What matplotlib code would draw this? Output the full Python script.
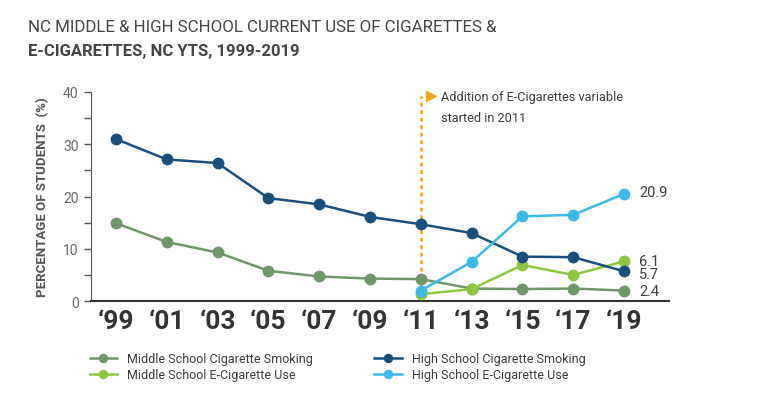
import matplotlib.pyplot as plt

plt.rcParams["font.family"] = ["Roboto", "DejaVu Sans"]

years = [1999, 2001, 2003, 2005, 2007, 2009, 2011, 2013, 2015, 2017, 2019]
year_labels = ["\u201899", "\u201801", "\u201803", "\u201805", "\u201807", "\u201809",
               "\u201811", "\u201813", "\u201815", "\u201817", "\u201819"]
ecig_years = [2011, 2013, 2015, 2017, 2019]

ms_cig = [14.9, 11.3, 9.3, 5.8, 4.7, 4.3, 4.2, 2.4, 2.3, 2.4, 2.0]
hs_cig = [31.0, 27.1, 26.4, 19.7, 18.5, 16.1, 14.7, 13.0, 8.5, 8.4, 5.7]
ms_ecig = [1.3, 2.3, 6.9, 5.0, 7.6]
hs_ecig = [2.0, 7.5, 16.2, 16.5, 20.5]

end_labels = ["20.9", "6.1", "5.7", "2.4"]
end_label_y = [20.9, 7.7, 5.2, 2.0]

c_ms_cig = "#6f9669"
c_hs_cig = "#17507f"
c_ms_ecig = "#8dc63f"
c_hs_ecig = "#3bb9ea"
c_orange = "#f5a21f"
txt = "#3d3d3d"

fig = plt.figure(figsize=(7.68, 4.06), dpi=100)
ax = fig.add_axes([0.1185, 0.256, 0.752, 0.515])

kw = dict(lw=1.8, marker="o", ms=8.5, markeredgewidth=0, zorder=3)
ax.plot(years, ms_cig, color=c_ms_cig, label="Middle School Cigarette Smoking", **kw)
ax.plot(ecig_years, ms_ecig, color=c_ms_ecig, label="Middle School E-Cigarette Use", **kw)
ax.plot(years, hs_cig, color=c_hs_cig, label="High School Cigarette Smoking", **kw)
ax.plot(ecig_years, hs_ecig, color=c_hs_ecig, label="High School E-Cigarette Use", **kw)

ax.axvline(2011, ymin=0, ymax=0.98, color=c_orange, ls=(0, (1.5, 1.5)), lw=1.8, zorder=1)
ax.plot([2011.4], [39.3], marker=">", color=c_orange, ms=7, clip_on=False)
ax.text(2011.8, 40.3, "Addition of E-Cigarettes variable\nstarted in 2011",
        va="top", ha="left", fontsize=9.2, color=txt, linespacing=1.75)

for lab, yv in zip(end_labels, end_label_y):
    ax.text(2019.6, yv, lab, va="center", ha="left", fontsize=10.5, color=txt)

ax.set_xlim(1998.02, 2020.75)
ax.set_ylim(0, 40)
ax.set_yticks([0, 10, 20, 30, 40])
ax.set_yticks([5, 15, 25, 35], minor=True)
ax.set_xticks(years)
ax.set_xticklabels(year_labels, fontsize=19, fontweight="bold", color="#333333")
ax.tick_params(axis="x", length=0, pad=6)
ax.tick_params(axis="y", which="both", length=5, width=1, color="#555555",
               labelsize=10, labelcolor="#666666", pad=4)
ax.set_ylabel("PERCENTAGE OF STUDENTS  (%)", fontsize=9.5, fontweight="bold",
              color="#555555", labelpad=10)
for s in ["top", "right"]:
    ax.spines[s].set_visible(False)
ax.spines["left"].set_color("#555555")
ax.spines["bottom"].set_color("#333333")
ax.spines["bottom"].set_linewidth(1.5)

fig.text(0.036, 0.933, "NC MIDDLE & HIGH SCHOOL CURRENT USE OF CIGARETTES &",
         fontsize=12.2, color="#444444", va="center")
fig.text(0.036, 0.874, "E-CIGARETTES, NC YTS, 1999-2019",
         fontsize=12, fontweight="bold", color="#444444", va="center")

fig.legend(loc="upper left", bbox_to_anchor=(0.102, 0.158), ncol=2, frameon=False,
           fontsize=9, labelcolor=txt, handlelength=2.2, columnspacing=4.9,
           labelspacing=0.25, handletextpad=0.8, markerscale=0.8)

fig.savefig("out.png", dpi=100)
